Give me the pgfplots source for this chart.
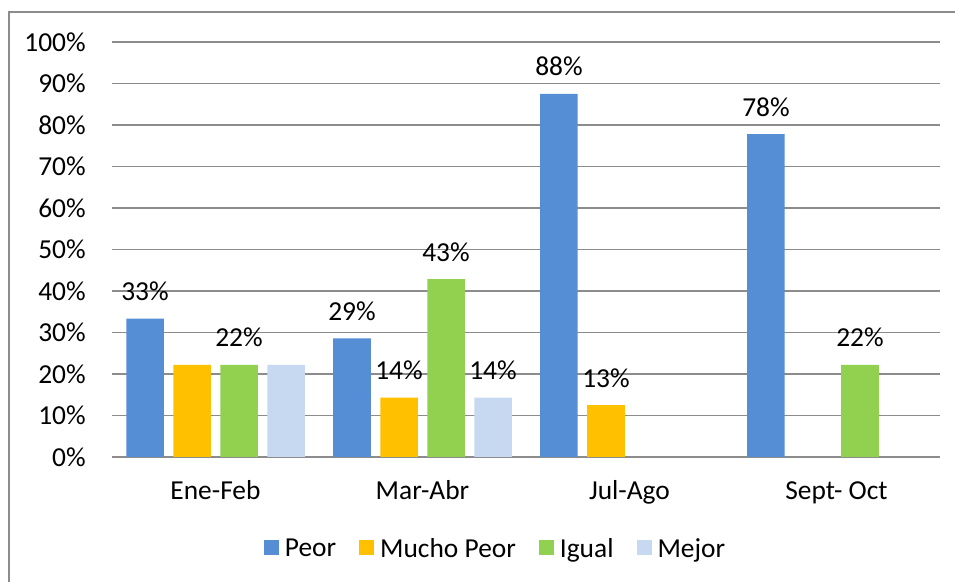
\documentclass[border=0pt]{standalone}
\usepackage{pgfplots}
\pgfplotsset{compat=1.18}
\usepackage{fontspec}
\setmainfont{Carlito}
\definecolor{cPeor}{HTML}{558ED5}
\definecolor{cMucho}{HTML}{FFC000}
\definecolor{cIgual}{HTML}{92D050}
\definecolor{cMejor}{HTML}{C6D9F1}
\definecolor{cGrid}{HTML}{8C8C8C}
\begin{document}
\fontsize{15.6}{18}\selectfont
\begin{tikzpicture}
\useasboundingbox (0,0) rectangle (19.1,11.64);
\draw[cGrid, line width=0.8pt] (0.18,0) -- (0.18,11.4) -- (19.1,11.4);
\begin{axis}[
  at={(2.24cm,2.5cm)}, anchor=south west,
  scale only axis, width=16.56cm, height=8.3cm,
  xmin=-0.5, xmax=3.5, ymin=0, ymax=100,
  ybar, bar width=0.75cm, ybar=0.19cm,
  xtick={0,1,2,3},
  xticklabels={Ene-Feb, Mar-Abr, Jul-Ago, Sept- Oct},
  ytick={0,10,...,100},
  yticklabel={\pgfmathprintnumber{\tick}\%},
  /pgf/number format/assume math mode=true,
  major tick length=0pt,
  axis line style={draw=none},
  ymajorgrids, grid style={cGrid, line width=1pt},
  yticklabel style={anchor=east, inner sep=0pt, xshift=-0.52cm},
  xticklabel style={anchor=base, inner sep=0pt, yshift=-0.86cm},
  nodes near coords={\pgfplotspointmeta},
  point meta=explicit symbolic,
  every node near coord/.append style={anchor=base, inner sep=0pt, yshift=0.36cm, black},
  legend columns=-1,
  legend style={draw=none, at={(0.462,-0.219)}, anchor=center, fill=none,
    /tikz/every even column/.append style={column sep=0.46cm},
    nodes={inner sep=0pt, text depth=0pt}},
  legend image code/.code={\fill[#1] (0cm,-0.15cm) rectangle (0.3cm,0.15cm); \path (0.42cm,0cm);},
]
\addplot[fill=cPeor, draw=none] coordinates {(0,33.33) [33\%] (1,28.57) [29\%] (2,87.5) [88\%] (3,77.78) [78\%]};
\addplot[fill=cMucho, draw=none] coordinates {(0,22.22) [] (1,14.29) [14\%] (2,12.5) [13\%]};
\addplot[fill=cIgual, draw=none] coordinates {(0,22.22) [22\%] (1,42.86) [43\%] (3,22.22) [22\%]};
\addplot[fill=cMejor, draw=none] coordinates {(0,22.22) [] (1,14.29) [14\%]};
\legend{Peor, Mucho Peor, Igual, Mejor}
\end{axis}
\end{tikzpicture}
\end{document}
